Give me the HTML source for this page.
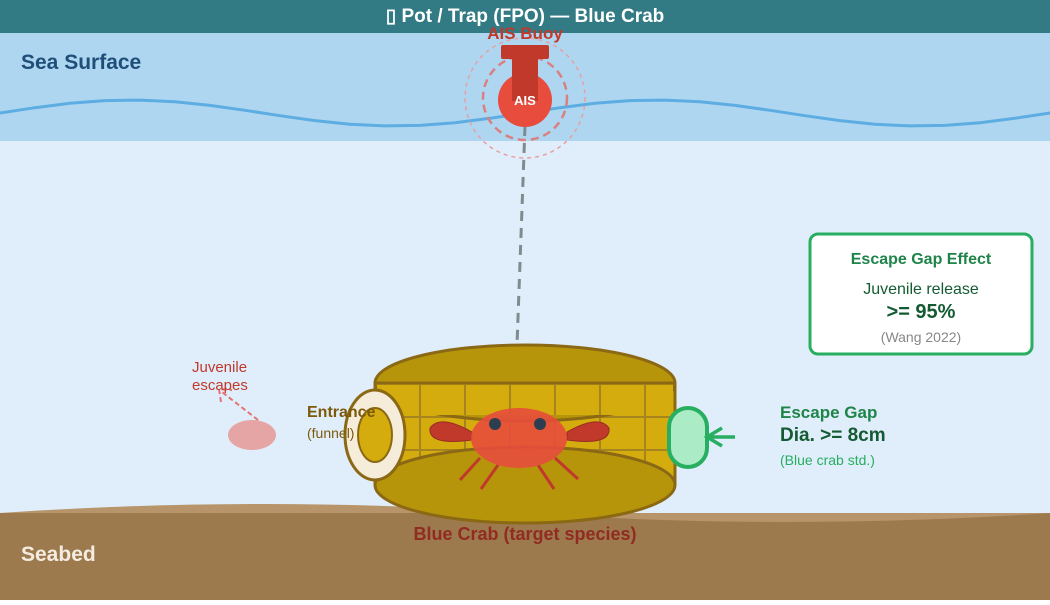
<!DOCTYPE html>
<html><head><meta charset="utf-8"><style>
body{margin:0;width:1050px;height:600px;overflow:hidden;font-family:"Liberation Sans",sans-serif}
</style></head><body>
<svg width="1050" height="600" viewBox="0 0 1050 600" xmlns="http://www.w3.org/2000/svg" font-family="Liberation Sans, sans-serif">
<rect width="1050" height="600" fill="#e0eefb"/>
<rect y="33" width="1050" height="108" fill="#aed6f1"/>
<polyline points="0,113 35,107.7 70,103.3 105,100.6 140,100.1 175,101.7 210,105.4 245,110.3 280,115.7 315,120.6 350,124.3 385,125.9 420,125.4 455,122.7 490,118.3 525,113 560,107.7 595,103.3 630,100.6 665,100.1 700,101.7 735,105.4 770,110.3 805,115.7 840,120.6 875,124.3 910,125.9 945,125.4 980,122.7 1015,118.3 1050,113" fill="none" stroke="#5dade2" stroke-width="3" stroke-linejoin="round"/>
<rect width="1050" height="33" fill="#327a84"/>
<text x="525" y="22" text-anchor="middle" fill="#fff" font-size="19" font-weight="bold">▯ Pot / Trap (FPO) — Blue Crab</text>
<text x="21" y="69" fill="#1f4e79" font-size="21" font-weight="bold">Sea Surface</text>
<rect y="513" width="1050" height="87" fill="#9c7a4e"/>
<path d="M0,513 Q262,495 525,513 Q787,531 1050,513 Z" fill="#b8946a"/>
<text x="21" y="561" fill="#f4ece0" font-size="21" font-weight="bold">Seabed</text>
<line x1="525" y1="126" x2="517" y2="345" stroke="#7f8c8d" stroke-width="3" stroke-dasharray="10,7"/>
<circle cx="525" cy="98" r="60" fill="none" stroke="#e8a0a0" stroke-width="1.5" stroke-dasharray="4,4"/>
<circle cx="525" cy="98" r="42" fill="none" stroke="#d98080" stroke-width="2.5" stroke-dasharray="8,5"/>
<circle cx="525" cy="100" r="27" fill="#e74c3c"/>
<rect x="512" y="55" width="26" height="46" fill="#c0392b"/>
<rect x="501" y="45" width="48" height="14" rx="2" fill="#c0392b"/>
<text x="525" y="105" text-anchor="middle" fill="#fff" font-size="13" font-weight="bold">AIS</text>
<text x="525" y="39" text-anchor="middle" fill="#c0392b" font-size="17" font-weight="bold">AIS Buoy</text>
<rect x="375" y="383" width="300" height="102" fill="#d4ac0d"/>
<g stroke="#a6841f" stroke-width="2">
<line x1="420" y1="383" x2="420" y2="485"/><line x1="465" y1="383" x2="465" y2="485"/><line x1="510" y1="383" x2="510" y2="485"/><line x1="555" y1="383" x2="555" y2="485"/><line x1="600" y1="383" x2="600" y2="485"/><line x1="645" y1="383" x2="645" y2="485"/>
<line x1="375" y1="417" x2="675" y2="417"/><line x1="375" y1="450" x2="675" y2="450"/>
</g>
<line x1="375" y1="383" x2="375" y2="485" stroke="#8b6914" stroke-width="3"/>
<line x1="675" y1="383" x2="675" y2="485" stroke="#8b6914" stroke-width="3"/>
<ellipse cx="525" cy="485" rx="150" ry="38" fill="#b7950b" stroke="#8b6914" stroke-width="3"/>
<ellipse cx="525" cy="383" rx="150" ry="38" fill="#b7950b" stroke="#8b6914" stroke-width="3"/>
<line x1="375" y1="383" x2="675" y2="383" stroke="#8b6914" stroke-width="3"/>
<rect x="377" y="385" width="296" height="30" fill="#d4ac0d"/>
<g stroke="#a6841f" stroke-width="2">
<line x1="420" y1="385" x2="420" y2="415"/><line x1="465" y1="385" x2="465" y2="415"/><line x1="510" y1="385" x2="510" y2="415"/><line x1="555" y1="385" x2="555" y2="415"/><line x1="600" y1="385" x2="600" y2="415"/><line x1="645" y1="385" x2="645" y2="415"/>
</g>
<g stroke="#c0392b" stroke-width="3">
<line x1="480" y1="458" x2="460" y2="480"/><line x1="498" y1="465" x2="481" y2="489"/><line x1="538" y1="465" x2="554" y2="489"/><line x1="555" y1="458" x2="578" y2="479"/>
</g>
<path d="M472,432 Q440,414 430,428 Q428,446 472,440 Z" fill="#c0392b" stroke="#962d22" stroke-width="1"/>
<path d="M567,432 Q599,414 609,428 Q611,446 567,440 Z" fill="#c0392b" stroke="#962d22" stroke-width="1"/>
<ellipse cx="519" cy="438" rx="48" ry="30" fill="#e74c3c" opacity="0.9"/>
<circle cx="495" cy="424" r="6" fill="#2c3e50"/>
<circle cx="540" cy="424" r="6" fill="#2c3e50"/>
<ellipse cx="375" cy="435" rx="30" ry="45" fill="#f5ecd9" stroke="#8b6914" stroke-width="3"/>
<ellipse cx="375" cy="435" rx="17" ry="27" fill="#d4ac0d" stroke="#8b6914" stroke-width="2"/>
<text x="307" y="417" fill="#7d5a0a" font-size="16" font-weight="bold">Entrance</text>
<text x="307" y="438" fill="#7d5a0a" font-size="14">(funnel)</text>
<rect x="669" y="408" width="38" height="59" rx="19" fill="#abebc6" stroke="#27ae60" stroke-width="4"/>
<path d="M735,437 H706 M722,428 L707,437 L722,446" fill="none" stroke="#27ae60" stroke-width="3.5"/>
<text x="780" y="418" fill="#1e8449" font-size="17" font-weight="bold">Escape Gap</text>
<text x="780" y="441" fill="#145a32" font-size="19" font-weight="bold">Dia. &gt;= 8cm</text>
<text x="780" y="465" fill="#27ae60" font-size="14">(Blue crab std.)</text>
<ellipse cx="252" cy="435" rx="24" ry="15" fill="#e6a5a5"/>
<path d="M258,420 L222,392 M221,402 L219,389 L232,390" fill="none" stroke="#e57373" stroke-width="2" stroke-dasharray="5,3"/>
<text x="192" y="372" fill="#c0392b" font-size="15">Juvenile</text>
<text x="192" y="390" fill="#c0392b" font-size="15">escapes</text>
<text x="525" y="540" text-anchor="middle" fill="#922b21" font-size="18" font-weight="bold">Blue Crab (target species)</text>
<rect x="810" y="234" width="222" height="120" rx="8" fill="#fff" stroke="#27ae60" stroke-width="3"/>
<text x="921" y="264" text-anchor="middle" fill="#1e8449" font-size="16" font-weight="bold">Escape Gap Effect</text>
<text x="921" y="294" text-anchor="middle" fill="#145a32" font-size="16">Juvenile release</text>
<text x="921" y="318" text-anchor="middle" fill="#145a32" font-size="20" font-weight="bold">&gt;= 95%</text>
<text x="921" y="342" text-anchor="middle" fill="#888" font-size="14">(Wang 2022)</text>
</svg>
</body></html>
